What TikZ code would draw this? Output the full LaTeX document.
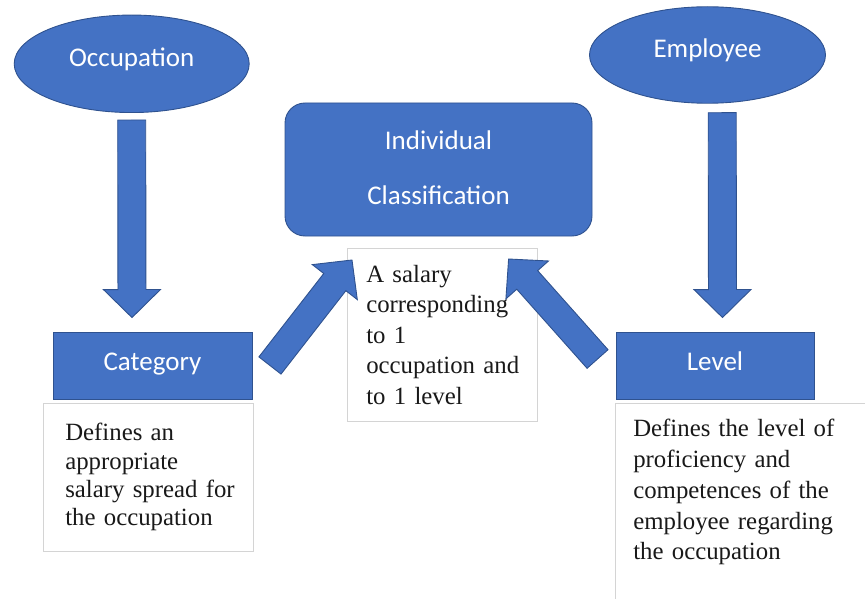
\documentclass[tikz,border=0pt]{standalone}
\usepackage{fontspec}
\setmainfont{Liberation Serif}
\newfontfamily\shapefont{Carlito}
\usepackage{tikz}
\usetikzlibrary{positioning,calc,shapes.geometric}

\definecolor{boxblue}{HTML}{4472C4}
\definecolor{edgeblue}{HTML}{2F528F}
\definecolor{noteline}{HTML}{D4D4D4}

% wide block arrow from #2 to #3, #1 names the base of its head
\newcommand{\blockarrow}[3]{%
  \coordinate (#1) at ($(#3)!28pt!(#2)$);
  \draw[blockarr] ($(#2)!14pt!90:(#3)$) -- ($(#1)!14pt!90:(#3)$)
    -- ($(#1)!28.5pt!90:(#3)$) -- (#3)
    -- ($(#1)!28.5pt!-90:(#3)$) -- ($(#1)!14pt!-90:(#3)$)
    -- ($(#2)!14pt!-90:(#3)$) -- cycle;
}

\begin{document}
\begin{tikzpicture}[
  x=1pt, y=-1pt,
  oval/.style={ellipse, draw=edgeblue, fill=boxblue, line width=0.9pt, text=white,
    font=\shapefont\fontsize{27}{32}\selectfont, inner sep=0pt,
    text height=17.4pt, text depth=12pt},
  block/.style={rectangle, draw=edgeblue, fill=boxblue, line width=0.9pt, text=white,
    font=\shapefont\fontsize{27}{32}\selectfont, inner sep=0pt},
  note/.style={rectangle, draw=noteline, fill=white, line width=0.6pt, anchor=north west,
    align=left, text=black!90},
  blockarr/.style={fill=boxblue, draw=edgeblue, line width=0.9pt, line join=miter},
]
\path[use as bounding box, clip] (0,0) rectangle (865,599);

\node[oval, minimum width=235pt, minimum height=97.5pt] (occ) at (131.7,63.8) {Occupation};
\node[oval, minimum width=236pt, minimum height=96.5pt] (emp) at (707.5,55) {Employee};

\node[block, minimum width=307pt, minimum height=133pt, rounded corners=20pt, align=center,
  font=\shapefont\fontsize{27}{55.5}\selectfont, text depth=4pt] (ic) at (438.5,169.5)
  {Individual\\Classification};

\node[block, minimum width=199pt, minimum height=67pt, text height=17.4pt, text depth=7pt]
  (cat) at (152.5,365.5) {Category};
\node[block, minimum width=198pt, minimum height=67pt, text height=17.4pt, text depth=7pt]
  (lvl) at (715,365.5) {Level};

\node[note, font=\fontsize{24.8}{28.3}\selectfont, text width=166pt, inner xsep=22pt,
  minimum height=148pt] (cattxt) at (43,403)
  {Defines~an\\appropriate\\salary~spread~for\\the~occupation};
\node[note, font=\fontsize{24.8}{30.4}\selectfont, text width=152pt, inner xsep=19pt,
  minimum height=173pt] (ictxt) at (347,248)
  {A~salary\\corresponding\\to~1\\occupation~and\\to~1~level};
\node[note, font=\fontsize{24.8}{30.75}\selectfont, text width=240pt, inner xsep=18pt,
  inner ysep=16pt, text depth=220pt] (lvltxt) at (615,403)
  {Defines~the~level~of\\proficiency~and\\competences~of~the\\employee~regarding\\the~occupation};

\coordinate (occtail) at ($(occ.south)+(0,7)$);
\coordinate (cattip) at ($(cat.north)+(-20.5,-14)$);
\coordinate (emptail) at ($(emp.south)+(14.7,9)$);
\coordinate (lvltip) at ($(lvl.north)+(7.5,-14)$);
\coordinate (cattail) at ($(cat.east)+(17.5,0)$);
\coordinate (ictipl) at ($(ictxt.north west)+(5,12)$);
\coordinate (lvltail) at ($(lvl.west)+(-18,-6.5)$);
\coordinate (ictipr) at ($(ictxt.north east)+(-29,11)$);

\blockarrow{occhead}{occtail}{cattip}
\blockarrow{emphead}{emptail}{lvltip}
\blockarrow{lefthead}{cattail}{ictipl}
\blockarrow{righthead}{lvltail}{ictipr}
\end{tikzpicture}
\end{document}
